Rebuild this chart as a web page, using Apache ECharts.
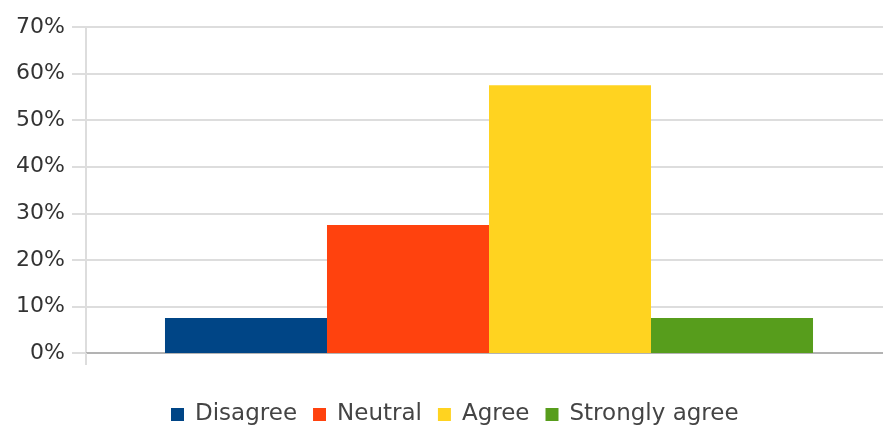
<!DOCTYPE html>
<html><head><meta charset="utf-8">
<script src="https://cdn.jsdelivr.net/npm/echarts@6/dist/echarts.min.js"></script>
<style>html,body{margin:0;padding:0;background:#fff}#c{width:883px;height:427px}</style>
</head><body><div id="c"></div>
<script>
const categories = [''];
const seriesNames = ['Disagree', 'Neutral', 'Agree', 'Strongly agree'];
const seriesValues = [7.5, 27.5, 57.5, 7.5];
const seriesColors = ['#004586', '#ff420e', '#ffd320', '#579d1c'];
const yTicks = [0, 10, 20, 30, 40, 50, 60, 70];

const chart = echarts.init(document.getElementById('c'));
chart.setOption({
  animation: false,
  grid: { left: 86, top: 27, width: 806, height: 326, containLabel: false, outerBoundsMode: 'none' },
  legend: {
    top: 398, left: 166, itemWidth: 13, itemHeight: 13, itemGap: 16,
    icon: 'rect',
    textStyle: { fontFamily: 'DejaVu Sans', fontSize: 23, color: '#444', padding: [0, 0, 0, 6] },
    data: seriesNames
  },
  xAxis: {
    type: 'category', data: categories,
    axisLine: { lineStyle: { color: '#b3b3b3', width: 2 } },
    axisTick: { show: true, length: 12, lineStyle: { color: '#ddd', width: 2 } },
    axisLabel: { show: false }
  },
  yAxis: {
    type: 'value', min: 0, max: 70, interval: 10,
    axisLine: { show: true, lineStyle: { color: '#ddd', width: 2 } },
    axisTick: { show: true, length: 14, lineStyle: { color: '#ddd', width: 2 } },
    splitLine: { lineStyle: { color: '#ddd', width: 2 } },
    axisLabel: {
      margin: 21, fontFamily: 'DejaVu Sans', fontSize: 22, color: '#333',
      formatter: v => yTicks.includes(v) ? v + '%' : ''
    }
  },
  series: seriesNames.map((n, i) => ({
    name: n, type: 'bar',
    data: [seriesValues[i]],
    barGap: 0, barCategoryGap: '19.6%',
    itemStyle: { color: seriesColors[i] }
  }))
});
</script></body></html>
